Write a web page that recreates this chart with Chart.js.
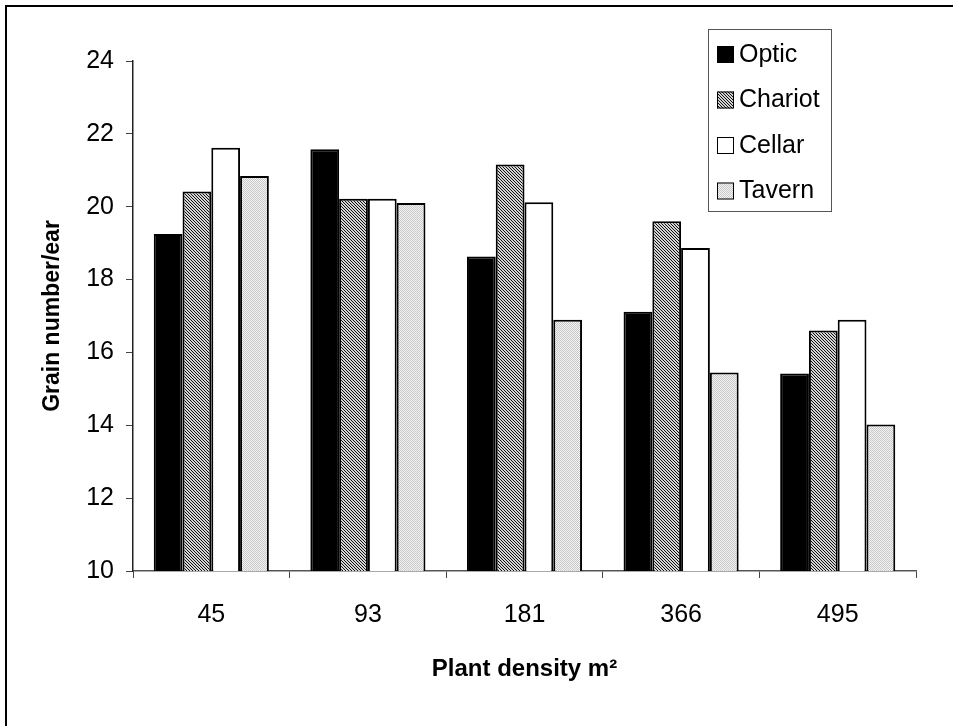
<!DOCTYPE html>
<html>
<head>
<meta charset="utf-8">
<title>Grain number per ear</title>
<script src="https://cdn.jsdelivr.net/npm/chart.js@4/dist/chart.umd.min.js"></script>
<style>
    html, body { margin: 0; padding: 0; background: #fff; }
    #wrap { width: 953px; height: 726px; }
</style>
</head>
<body>
<div id="wrap"><canvas id="grainChart" width="953" height="726"></canvas></div>
<script>
// Data
const densities = ['45', '93', '181', '366', '495'];
const optic = [19.25, 21.58, 18.63, 17.12, 15.42];
const chariot = [20.42, 20.22, 21.16, 19.6, 16.6];
const cellar = [21.62, 20.22, 20.12, 18.87, 16.9];
const tavern = [20.84, 20.1, 16.9, 15.45, 14.02];
const yTicks = [10, 12, 14, 16, 18, 20, 22, 24];

// Fill patterns like the old Excel ones
function makePattern(size, painter) {
    const c = document.createElement('canvas');
    c.width = size;
    c.height = size;
    const g = c.getContext('2d');
    painter(g);
    return g.createPattern(c, 'repeat');
}

const chariotFill = makePattern(3, g => {
    g.fillStyle = '#d4d4d4';
    g.fillRect(0, 0, 3, 3);
    g.fillStyle = '#111';
    for (let i = 0; i < 3; i++) g.fillRect(i, i, 1, 1);
});

const tavernFill = makePattern(2, g => {
    g.fillStyle = '#f4f4f4';
    g.fillRect(0, 0, 2, 2);
    g.fillStyle = '#c8c8c8';
    g.fillRect(0, 0, 1, 1);
    g.fillRect(1, 1, 1, 1);
});

const FONT = "'Liberation Sans', Arial, sans-serif";

// Page frame + white background
const framePlugin = {
    id: 'frame',
    beforeDraw(chart) {
        const c = chart.ctx;
        c.save();
        c.fillStyle = '#fff';
        c.fillRect(0, 0, chart.width, chart.height);
        c.fillStyle = '#000';
        c.fillRect(5, 5, chart.width - 5, 2);
        c.fillRect(5, 5, 2, chart.height - 5);
        c.restore();
    }
};

// Boxed legend in the top right corner
const legendPlugin = {
    id: 'boxLegend',
    afterDraw(chart) {
        const c = chart.ctx;
        const box = { x: 708, y: 29, w: 123, h: 182 };
        c.save();
        c.strokeStyle = '#555';
        c.lineWidth = 1;
        c.strokeRect(box.x + 0.5, box.y + 0.5, box.w, box.h);
        c.font = '25px ' + FONT;
        c.textBaseline = 'middle';
        chart.data.datasets.forEach((ds, i) => {
            const cy = box.y + 25 + i * 45.5;
            c.fillStyle = ds.backgroundColor;
            c.fillRect(717, cy - 8, 17, 17);
            c.strokeStyle = '#000';
            c.strokeRect(717.5, cy - 7.5, 16, 16);
            c.fillStyle = '#000';
            c.fillText(ds.label, 739, cy + 1);
        });
        c.restore();
    }
};

const ctx = document.getElementById('grainChart').getContext('2d');
const grainChart = new Chart(ctx, {
    type: 'bar',
    data: {
        labels: densities,
        datasets: [
            { label: 'Optic', data: optic, backgroundColor: '#000' },
            { label: 'Chariot', data: chariot, backgroundColor: chariotFill },
            { label: 'Cellar', data: cellar, backgroundColor: '#fff' },
            { label: 'Tavern', data: tavern, backgroundColor: tavernFill }
        ]
    },
    options: {
        responsive: false,
        animation: false,
        layout: { padding: { left: 0, top: 61, right: 37, bottom: 0 } },
        datasets: {
            bar: {
                borderColor: '#000',
                borderWidth: 2,
                barPercentage: 1,
                categoryPercentage: 0.735
            }
        },
        plugins: {
            legend: { display: false },
            tooltip: { enabled: false }
        },
        scales: {
            x: {
                afterFit(scale) { scale.height = 155; },
                grid: {
                    offset: true,
                    drawOnChartArea: false,
                    drawTicks: true,
                    tickLength: 7,
                    tickWidth: 1,
                    tickColor: '#444'
                },
                border: { color: '#555', width: 1.5 },
                ticks: {
                    color: '#000',
                    padding: 22,
                    font: { family: FONT, size: 25 }
                },
                title: {
                    display: true,
                    text: 'Plant density m²',
                    color: '#000',
                    font: { family: FONT, size: 24, weight: 'bold' },
                    padding: { top: 0, bottom: 42 }
                }
            },
            y: {
                min: 10,
                max: 24,
                afterFit(scale) { scale.width = 133; },
                afterBuildTicks(scale) { scale.ticks = yTicks.map(v => ({ value: v })); },
                grid: {
                    drawOnChartArea: false,
                    drawTicks: true,
                    tickLength: 7,
                    tickColor: '#444'
                },
                border: { color: '#222', width: 1.5 },
                ticks: {
                    color: '#000',
                    padding: 12,
                    font: { family: FONT, size: 25 }
                },
                title: {
                    display: true,
                    text: 'Grain number/ear',
                    color: '#000',
                    font: { family: FONT, size: 23, weight: 'bold' },
                    padding: { top: 39, bottom: 0 }
                }
            }
        }
    },
    plugins: [framePlugin, legendPlugin]
});
</script>
</body>
</html>
